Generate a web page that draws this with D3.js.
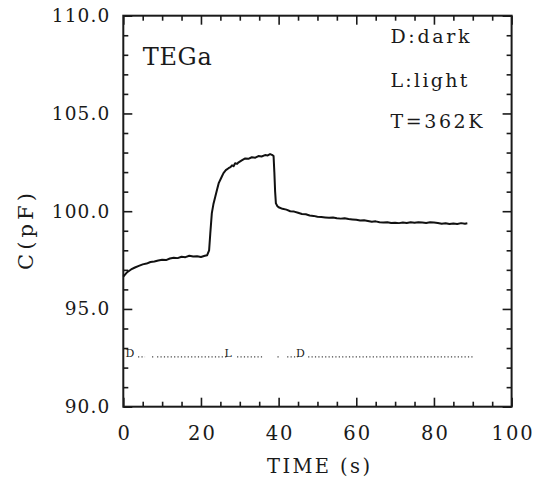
<!DOCTYPE html>
<html>
<head>
<meta charset="utf-8">
<script src="https://cdn.jsdelivr.net/npm/d3@7"></script>
<style>
  body { margin: 0; background: #fff; }
  svg text { font-family: "DejaVu Serif", "Liberation Serif", serif; fill: #1a1a1a; }
</style>
</head>
<body>
<div id="chart"></div>
<script>
// capacitance transient
var timeS = [0, 1, 2, 3, 4, 5, 6, 7, 8, 9, 10, 11, 12, 13, 14, 15, 16, 17, 18, 19, 20, 21, 21.6,
  22.1, 22.4, 22.8, 23.2, 23.7, 24.2, 24.6, 25.2, 25.8, 26.4, 27.1, 27.6, 28.0, 28.4, 28.8, 29.3, 29.7,
  30.5, 31.4, 32.2, 33.1, 34, 34.8, 35.6, 36.5, 37.2, 37.8, 38.3, 38.7, 38.9, 39.1, 39.3, 39.7, 40,
  41, 42, 43, 44, 45, 46, 47, 48, 49, 50, 51, 52, 53, 54, 55, 56, 57, 58, 59, 60, 61, 62, 63, 64, 65,
  66, 67, 68, 69, 70, 71, 72, 73, 74, 75, 76, 77, 78, 79, 80, 81, 82, 83, 84, 85, 86, 87, 88, 88.6];
var capPF = [96.65, 96.88, 97.02, 97.12, 97.2, 97.28, 97.32, 97.4, 97.43, 97.48, 97.52, 97.5, 97.58,
  97.62, 97.6, 97.67, 97.65, 97.72, 97.68, 97.7, 97.66, 97.72, 97.75,
  98.0, 98.85, 99.9, 100.35, 100.75, 101.15, 101.45, 101.7, 101.95, 102.1, 102.2, 102.25, 102.35, 102.3,
  102.45, 102.42, 102.5, 102.6, 102.7, 102.68, 102.76, 102.74, 102.82, 102.8, 102.87, 102.85, 102.92,
  102.88, 102.82, 102.0, 101.0, 100.4, 100.25, 100.2,
  100.12, 100.08, 100.0, 99.98, 99.92, 99.86, 99.84, 99.78, 99.76, 99.72, 99.7, 99.68, 99.66, 99.68,
  99.64, 99.62, 99.64, 99.6, 99.58, 99.56, 99.52, 99.54, 99.5, 99.46, 99.48, 99.44, 99.42, 99.44,
  99.4, 99.41, 99.39, 99.42, 99.4, 99.43, 99.41, 99.44, 99.42, 99.4, 99.43, 99.42, 99.4, 99.36, 99.38,
  99.34, 99.37, 99.35, 99.39, 99.36, 99.38];

// dark / light indicator row
var markTimes = [1.7, 27, 45.6];
var markLabels = ["D", "L", "D"];
var dotRuns = [[3.8, 5.6], [7.4, 7.4], [8.7, 26.7], [29.3, 36], [39.7, 39.7], [42.2, 45], [47.6, 90]];
var markLevel = 92.55;

var xTicks = [0, 20, 40, 60, 80, 100];
var yTicks = [90, 95, 100, 105, 110];
var yTickLabels = ["90.0", "95.0", "100.0", "105.0", "110.0"];
var sampleName = "TEGa";
var noteLines = ["D:dark", "L:light", "T=362K"];
var xTitle = "TIME (s)";
var yTitle = "C(pF)";

var W = 536, H = 479;
var margin = {left: 123.3, top: 15.7, right: 24.4, bottom: 72.3};
var w = W - margin.left - margin.right, h = H - margin.top - margin.bottom;

var svg = d3.select("#chart").append("svg").attr("width", W).attr("height", H);
var g = svg.append("g").attr("transform", "translate(" + margin.left + "," + margin.top + ")");

var x = d3.scaleLinear().domain([0, 100]).range([0, w]);
var y = d3.scaleLinear().domain([90, 110]).range([h, 0]);

var minorX = d3.range(0, 101, 5).filter(function(d) { return d % 20 !== 0; });
var minorY = d3.range(90, 111, 1).filter(function(d) { return d % 5 !== 0; });

function styleAxis(sel) {
  sel.select(".domain").remove();
  sel.selectAll("line").attr("stroke", "#1a1a1a").attr("stroke-width", 1.6);
}

// minor ticks on all four sides, pointing inward
g.append("g").attr("transform", "translate(0," + h + ")")
  .call(d3.axisBottom(x).tickValues(minorX).tickSize(-5).tickFormat("")).call(styleAxis);
g.append("g")
  .call(d3.axisTop(x).tickValues(minorX).tickSize(-5).tickFormat("")).call(styleAxis);
g.append("g")
  .call(d3.axisLeft(y).tickValues(minorY).tickSize(-5).tickFormat("")).call(styleAxis);
g.append("g").attr("transform", "translate(" + w + ",0)")
  .call(d3.axisRight(y).tickValues(minorY).tickSize(-5).tickFormat("")).call(styleAxis);

// major ticks
var xb = g.append("g").attr("transform", "translate(0," + h + ")")
  .call(d3.axisBottom(x).tickValues(xTicks).tickSize(-9).tickPadding(19).tickFormat(d3.format("d")))
  .call(styleAxis);
xb.selectAll("text").attr("font-size", 19.5).attr("letter-spacing", 2).attr("dx", 1)
  .style("font-family", "'DejaVu Serif', serif");
g.append("g")
  .call(d3.axisTop(x).tickValues(xTicks).tickSize(-9).tickFormat("")).call(styleAxis);

var yl = g.append("g")
  .call(d3.axisLeft(y).tickValues(yTicks).tickSize(-9).tickPadding(13)
    .tickFormat(function(d, i) { return yTickLabels[i]; }))
  .call(styleAxis);
yl.selectAll("text").attr("font-size", 18.5).attr("letter-spacing", 1.1)
  .style("font-family", "'DejaVu Serif', serif");
g.append("g").attr("transform", "translate(" + w + ",0)")
  .call(d3.axisRight(y).tickValues(yTicks).tickSize(-9).tickFormat("")).call(styleAxis);

// frame
g.append("rect").attr("width", w).attr("height", h)
  .attr("fill", "none").attr("stroke", "#1a1a1a").attr("stroke-width", 2);

// curve
var line = d3.line().x(function(d, i) { return x(timeS[i]); }).y(function(d) { return y(d); });
g.append("path").datum(capPF).attr("d", line)
  .attr("fill", "none").attr("stroke", "#111").attr("stroke-width", 2)
  .attr("stroke-linejoin", "round");

// indicator row
g.selectAll(".run").data(dotRuns).enter().append("line")
  .attr("class", "run")
  .attr("x1", function(d) { return x(d[0]); })
  .attr("x2", function(d) { return Math.max(x(d[1]), x(d[0]) + 1.2); })
  .attr("y1", y(markLevel)).attr("y2", y(markLevel))
  .attr("stroke", "#444").attr("stroke-width", 1.1)
  .attr("stroke-dasharray", "1.2,2.2");
g.selectAll(".mark").data(markTimes).enter().append("text")
  .attr("class", "mark")
  .attr("x", function(d) { return x(d); })
  .attr("y", y(markLevel) + 0.5)
  .attr("font-size", 11)
  .attr("text-anchor", "middle")
  .text(function(d, i) { return markLabels[i]; });

// annotations
g.append("text").attr("x", x(5)).attr("y", y(107.5))
  .attr("font-size", 24).attr("textLength", 69).text(sampleName);
var noteY = [108.6, 106.35, 104.25];
var noteW = [79, 77, 92];
g.selectAll(".note").data(noteLines).enter().append("text")
  .attr("class", "note")
  .attr("x", x(68.8))
  .attr("y", function(d, i) { return y(noteY[i]); })
  .attr("font-size", 19)
  .attr("textLength", function(d, i) { return noteW[i]; })
  .text(function(d) { return d; });

// axis titles
svg.append("text").attr("x", 267).attr("y", 473)
  .attr("font-size", 19.5).attr("textLength", 103).text(xTitle);
svg.append("text").attr("transform", "translate(33,193) rotate(-90)")
  .attr("text-anchor", "end")
  .attr("font-size", 21).attr("textLength", 77).text(yTitle);
</script>
</body>
</html>
